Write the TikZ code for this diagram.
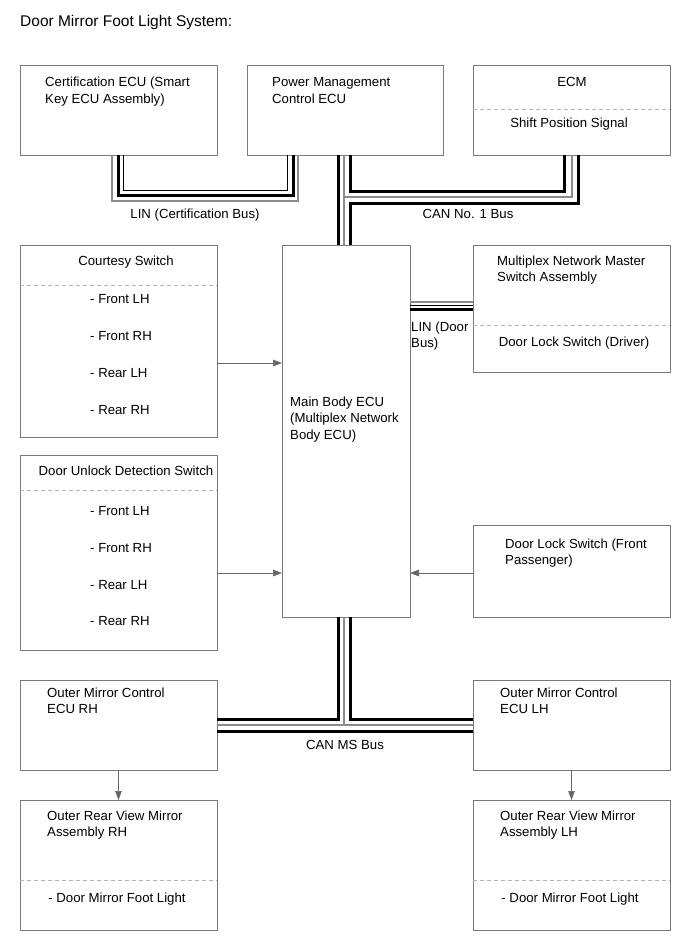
\documentclass[tikz,border=0pt]{standalone}
\usepackage{fontspec}
\setmainfont{Liberation Sans}
\usetikzlibrary{arrows.meta}
\definecolor{boxgray}{HTML}{7A7A7A}
\definecolor{dashgray}{HTML}{B4B4B4}
\definecolor{wiregray}{HTML}{8C8C8C}
\begin{document}
\begin{tikzpicture}[x=1pt,y=-1pt,
  box/.style={draw=boxgray, line width=0.8pt, anchor=north west, inner sep=0pt, outer sep=0pt},
  txt/.style={anchor=base west, inner sep=0pt, align=left, font=\fontsize{13.2}{16.5}\selectfont},
  ctxt/.style={anchor=base, inner sep=0pt, align=center, font=\fontsize{13.2}{16.5}\selectfont},
  sep/.style={draw=dashgray, line width=0.8pt, dash pattern=on 4pt off 3pt},
  arr/.style={draw=black!60, line width=0.7pt, -{Triangle[length=9pt,width=6.5pt]}},
  thickw/.style={draw=black, line width=3pt},
  thinw/.style={draw=black, line width=0.9pt},
  grayw/.style={draw=wiregray, line width=1.1pt}
]
\useasboundingbox (0,0) rectangle (690,952);
\fill[white] (0,0) rectangle (690,952);

\node[anchor=base west, inner sep=0pt, font=\fontsize{15.5}{18}\selectfont] (title) at (20,27) {Door Mirror Foot Light System:};

% boxes
\node[box, minimum width=197pt, minimum height=90pt] (cert) at (20,65) {};
\node[box, minimum width=196pt, minimum height=90pt] (pmc) at (247,65) {};
\node[box, minimum width=197pt, minimum height=90pt] (ecm) at (473,65) {};
\node[box, minimum width=197pt, minimum height=192pt] (court) at (20,245) {};
\node[box, minimum width=128pt, minimum height=372pt] (mb) at (282,245) {};
\node[box, minimum width=197pt, minimum height=127pt] (mns) at (473,245) {};
\node[box, minimum width=197pt, minimum height=195pt] (dud) at (20,455) {};
\node[box, minimum width=197pt, minimum height=92pt] (dls) at (473,525) {};
\node[box, minimum width=197pt, minimum height=90pt] (omr) at (20,680) {};
\node[box, minimum width=197pt, minimum height=90pt] (oml) at (473,680) {};
\node[box, minimum width=197pt, minimum height=130pt] (orr) at (20,800) {};
\node[box, minimum width=197pt, minimum height=130pt] (orl) at (473,800) {};

% dashed separators
\draw[sep] (ecm.west |- 0,109) -- (ecm.east |- 0,109);
\draw[sep] (court.west |- 0,285) -- (court.east |- 0,285);
\draw[sep] (mns.west |- 0,325) -- (mns.east |- 0,325);
\draw[sep] (dud.west |- 0,490) -- (dud.east |- 0,490);
\draw[sep] (orr.west |- 0,880) -- (orr.east |- 0,880);
\draw[sep] (orl.west |- 0,880) -- (orl.east |- 0,880);

% texts (multi-line nodes are placed by the baseline of their last line)
\node[txt] (tcert) at (45,103.5) {Certification ECU (Smart\\Key ECU Assembly)};
\node[txt] (tpmc) at (272,103.5) {Power Management\\Control ECU};
\node[ctxt] (tecm) at (572,87) {ECM};
\node[ctxt] (tshift) at (569,128) {Shift Position Signal};
\node[ctxt] (tlinc) at (195,218) {LIN (Certification Bus)};
\node[ctxt] (tcan1) at (468,218) {CAN No. 1 Bus};
\node[ctxt] (tcourt) at (126,265) {Courtesy Switch};
\node[txt] (c1) at (90,303) {- Front LH};
\node[txt] (c2) at (90,340) {- Front RH};
\node[txt] (c3) at (90,377) {- Rear LH};
\node[txt] (c4) at (90,414) {- Rear RH};
\node[txt] (tmb) at (290,439) {Main Body ECU\\(Multiplex Network\\Body ECU)};
\node[txt] (tmns) at (497,281.5) {Multiplex Network Master\\Switch Assembly};
\node[ctxt] (tdlsd) at (574,346) {Door Lock Switch (Driver)};
\node[txt] (tlind) at (411,347.5) {LIN (Door\\Bus)};
\node[ctxt] (tdud) at (126,475) {Door Unlock Detection Switch};
\node[txt] (d1) at (90,515) {- Front LH};
\node[txt] (d2) at (90,552) {- Front RH};
\node[txt] (d3) at (90,589) {- Rear LH};
\node[txt] (d4) at (90,625) {- Rear RH};
\node[txt] (tdls) at (505,564.5) {Door Lock Switch (Front\\Passenger)};
\node[txt] (tomr) at (47,713.5) {Outer Mirror Control\\ECU RH};
\node[txt] (toml) at (500,713.5) {Outer Mirror Control\\ECU LH};
\node[ctxt] (tcanms) at (345,749) {CAN MS Bus};
\node[txt] (torr) at (47,836.5) {Outer Rear View Mirror\\Assembly RH};
\node[txt] (torl) at (500,836.5) {Outer Rear View Mirror\\Assembly LH};
\node[ctxt] (tfr) at (117,902) {- Door Mirror Foot Light};
\node[ctxt] (tfl) at (570,902) {- Door Mirror Foot Light};

% arrows
\draw[arr] (court.east |- 0,363) -- (mb.west |- 0,363);
\draw[arr] (dud.east |- 0,573) -- (mb.west |- 0,573);
\draw[arr] (dls.west |- 0,573) -- (mb.east |- 0,573);
\draw[arr] (omr.south) -- (orr.north);
\draw[arr] (oml.south) -- (orl.north);

% LIN (Certification Bus)
\draw[grayw] (cert.south -| 112,0) -- (112,201) -- (298,201) -- (pmc.south -| 298,0);
\draw[thickw] (cert.south -| 118,0) -- (118,195) -- (293,195) -- (pmc.south -| 293,0);
\draw[thinw] (cert.south -| 123,0) -- (123,190) -- (287,190) -- (pmc.south -| 287,0);

% CAN No. 1 Bus
\draw[thickw] (pmc.south -| 338,0) -- (mb.north -| 338,0);
\draw[grayw] (pmc.south -| 344,0) -- (mb.north -| 344,0);
\draw[grayw] (ecm.south -| 572,0) -- (572,197) -- (344,197);
\draw[thickw] (pmc.south -| 350,0) -- (350,191) -- (564,191) -- (ecm.south -| 564,0);
\draw[thickw] (ecm.south -| 578,0) -- (578,203) -- (350,203) -- (mb.north -| 350,0);

% LIN (Door Bus)
\draw[grayw] (mb.east |- 0,302) -- (mns.west |- 0,302);
\draw[thinw] (mb.east |- 0,305) -- (mns.west |- 0,305);
\draw[thickw] (mb.east |- 0,309.5) -- (mns.west |- 0,309.5);

% CAN MS Bus
\draw[thickw] (mb.south -| 338,0) -- (338,719) -- (omr.east |- 0,719);
\draw[thickw] (mb.south -| 350,0) -- (350,719) -- (oml.west |- 0,719);
\draw[grayw] (mb.south -| 344,0) -- (344,725);
\draw[grayw] (omr.east |- 0,725) -- (oml.west |- 0,725);
\draw[thickw] (omr.east |- 0,731) -- (oml.west |- 0,731);
\end{tikzpicture}
\end{document}
